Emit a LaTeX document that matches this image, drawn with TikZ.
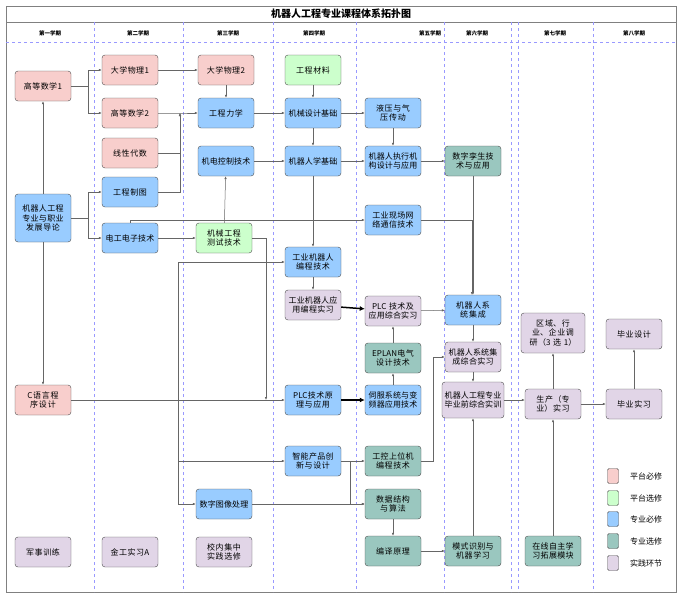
\documentclass[tikz,border=0pt]{standalone}
\usepackage{fontspec}
\setmainfont{Noto Sans CJK SC}
\XeTeXlinebreaklocale "zh"
\XeTeXlinebreakskip=0pt plus 1pt
\usetikzlibrary{arrows.meta}
\definecolor{pmfill}{RGB}{248,206,204}
\definecolor{pxfill}{RGB}{204,255,204}
\definecolor{zmfill}{RGB}{153,204,255}
\definecolor{zxfill}{RGB}{154,199,191}
\definecolor{sjfill}{RGB}{225,213,231}

\begin{document}
\begin{tikzpicture}[x=1pt,y=-1pt,font=\fontsize{8}{9.5}\selectfont]
    \tikzset{
    course/.style={rounded corners=3pt,draw=black!70,minimum width=56pt,minimum height=30pt,text width=53pt,align=center,inner sep=1pt},
    pm/.style={course,fill=pmfill},
    px/.style={course,fill=pxfill},
    zm/.style={course,fill=zmfill},
    zx/.style={course,fill=zxfill},
    sj/.style={course,fill=sjfill},
    c1/.style={-{Latex[length=3pt,width=2.5pt]},black!60,line width=0.5pt},
    c2/.style={-{Latex[length=5pt,width=5pt]},black,line width=1.5pt},
    grid/.style={blue!40,dashed,line width=0.3pt},
    }
    \useasboundingbox (0,0) rectangle (682,597);
    % frame and semesters
    \draw[black!50] (6,6) rectangle (676,592);
    \draw[black!50] (6,22) -- (676,22);
    \draw[grid] (6,42) -- (676,42);
    \foreach \x in {94,183,273,356,444,511,518,593}
      \draw[grid] (\x,22) -- (\x,592);
    \node[font=\bfseries\fontsize{10}{12}\selectfont] (title) at (341,14) {机器人工程专业课程体系拓扑图};
    \foreach \x/\t in {50/第一学期,138/第二学期,228/第三学期,314/第四学期,430/第五学期,477/第六学期,555/第七学期,634/第八学期}
      \node[font=\bfseries\fontsize{5.5}{6}\selectfont] at (\x,33) {\t};

    % semester 1
    \node[pm] (gs1) at (43,86) {高等数学1};
    \node[zm,minimum height=48pt] (dl) at (43,218) {机器人工程专业与职业发展导论};
    \node[pm] (cyy) at (43,400) {C语言程序设计};
    \node[sj] (js) at (43,552) {军事训练};
    % semester 2
    \node[pm] (wl1) at (130,70) {大学物理1};
    \node[pm] (gs2) at (130,113) {高等数学2};
    \node[pm] (xd) at (130,153) {线性代数};
    \node[zm] (zt) at (130,192) {工程制图};
    \node[zm] (dg) at (130,238) {电工电子技术};
    \node[sj] (jg) at (130,552) {金工实习A};
    % semester 3
    \node[pm] (wl2) at (226,70) {大学物理2};
    \node[zm] (lx) at (226,113) {工程力学};
    \node[zm] (jd) at (226,161) {机电控制技术};
    \node[px] (cs) at (224,238) {机械工程测试技术};
    \node[zm] (tx) at (224,504) {数字图像处理};
    \node[sj] (xn) at (224,552) {校内集中实践选修};
    % semester 4
    \node[px] (cl) at (313,70) {工程材料};
    \node[zm] (sj) at (313,113) {机械设计基础};
    \node[zm] (jc) at (313,161) {机器人学基础};
    \node[zm] (bc) at (313,262) {工业机器人编程技术};
    \node[sj] (bs) at (313,305) {工业机器人应用编程实习};
    \node[zm] (plc) at (313,400) {PLC技术原理与应用};
    \node[zm] (zn) at (313,461) {智能产品创新与设计};
    % semester 5
    \node[zm] (yy) at (393,113) {液压与气压传动};
    \node[zm] (zx) at (393,161) {机器人执行机构设计与应用};
    \node[zm] (wl) at (393,220) {工业现场网络通信技术};
    \node[sj] (plcs) at (393,311) {PLC 技术及应用综合实习};
    \node[zx] (ep) at (393,358) {EPLAN电气设计技术};
    \node[zm] (sf) at (393,400) {伺服系统与变频器应用技术};
    \node[zx] (gk) at (393,461) {工控上位机编程技术};
    \node[zx] (sf2) at (393,504) {数据结构与算法};
    \node[zx] (by) at (393,551) {编译原理};
    % semester 6
    \node[zx] (ls) at (473,161) {数字孪生技术与应用};
    \node[zm] (jch) at (473,310) {机器人系统集成};
    \node[sj] (jcs) at (473,357) {机器人系统集成综合实习};
    \node[sj,minimum height=36pt,text width=60pt,minimum width=60pt] (zh) at (473,400) {机器人工程专业毕业前综合实训};
    \node[zx] (ms) at (473,551) {模式识别与机器学习};
    % semester 7, 8
    \node[sj,text width=62pt,minimum width=64pt,minimum height=40pt] (dy) at (553,333) {区域、行业、企业调研（3 选 1）};
    \node[sj] (sc) at (553,404) {生产（专业）实习};
    \node[zx] (zz) at (553,551) {在线自主学习拓展模块};
    \node[sj] (bsj) at (634,334) {毕业设计};
    \node[sj] (bsx) at (634,404) {毕业实习};

    % legend
    \foreach \y/\c/\t in {476/pmfill/平台必修,498/pxfill/平台选修,519/zmfill/专业必修,541/zxfill/专业选修,563/sjfill/实践环节}{
      \node[draw=black!70,fill=\c,rounded corners=1.5pt,minimum width=11pt,minimum height=15pt] at (613,\y) {};
      \node at (646,\y) {\t};
    }

    \draw[c1] (dl) -- (gs1);
    \draw[c1] (dl) -- (cyy);
    \draw[c1] (gs1.east) -| (88,70) -- (wl1);
    \draw[c1] (gs1.east) -| (88,113) -- (gs2);
    \draw[c1] (dl.east) -| (88,192) -- (zt);
    \draw[c1] (dl.east) -| (88,238) -- (dg);
    \draw[c1] (wl1) -- (wl2);
    \draw[c1] (wl2) -- (lx);
    \draw[c1] (gs2.east) -- (180,113) -- (lx);
    \draw[c1] (xd.east) -| (180,113);
    \draw[c1] (zt.east) -| (180,113);
    \draw[c1] (lx) -- (sj);
    \draw[c1] (cl) -- (sj);
    \draw[c1] (sj) -- (yy);
    \draw[c1] (sj) -- (jc);
    \draw[c1] (yy) -- (zx);
    \draw[c1] (jd) -- (jc);
    \draw[c1] (jc) -- (zx);
    \draw[c1] (zx) -- (ls);
    \draw[c1] (dg) -- (cs);
    \draw[c1] (cs) -- (jd);
    \draw[c1] (dg.north) |- (wl);
    \draw[c1] (wl.east) -| (472,295);
    \draw[c1] (ls) -- (jch);
    \draw[c1] (jc) -- (bc);
    \draw[c1] (bc) -- (bs);
    \draw[c2] (bs) -- (plcs);
    \draw[c1] (cs.east) -| (266,400);
    \draw[c1] (cyy) -- (plc);
    \draw[c1] (178,400) |- (bc);
    \draw[c1] (178,400) |- (zn);
    \draw[c1] (178,400) |- (tx);
    \draw[c2] (plc) -- (sf);
    \draw[c1] (sf) -- (ep);
    \draw[c1] (ep) -- (plcs);
    \draw[c1] (plcs) -- (jch);
    \draw[c1] (jch) -- (jcs);
    \draw[c1] (jcs) -- (zh);
    \draw[c1] (gk.east) -| (433,357) -- (jcs);
    \draw[c1] (zn) -- (gk);
    \draw[c1] (zn.east) -| (350,504) -- (sf2);
    \draw[c1] (tx) -- (sf2);
    \draw[c1] (sf2) -- (by);
    \draw[c1] (by) -- (ms);
    \draw[c1] (ms) -- (zh);
    \draw[c1] (zh) -- (zh -| sc.west);
    \draw[c1] (sc) -- (bsx);
    \draw[c1] (sc) -- (dy);
    \draw[c1] (zz) -- (sc);
    \draw[c1] (bsx) -- (bsj);
\end{tikzpicture}
\end{document}
